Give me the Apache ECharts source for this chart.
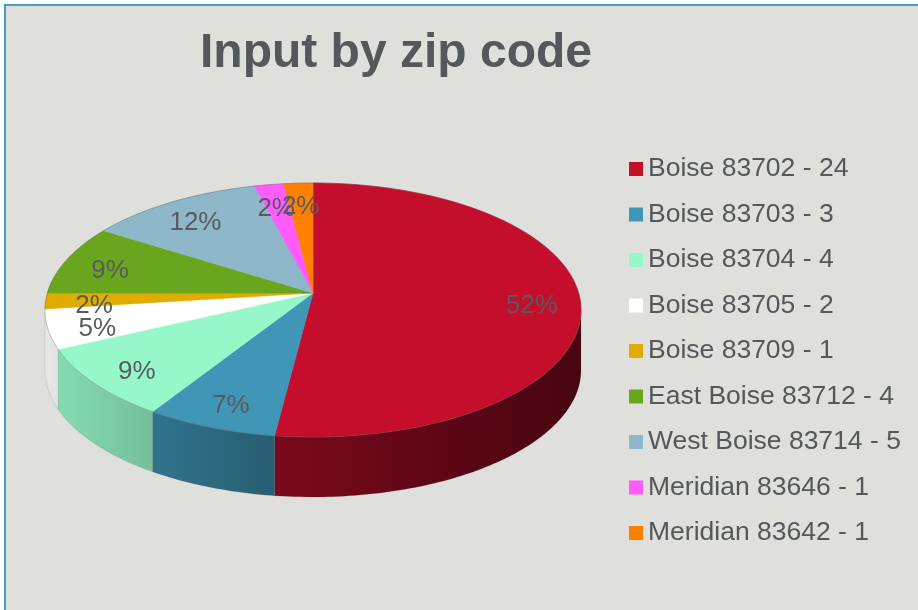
<!DOCTYPE html>
<html>
<head>
<meta charset="utf-8">
<title>Input by zip code</title>
<script src="https://cdn.jsdelivr.net/npm/echarts@6/dist/echarts.min.js"></script>
<style>
  html, body { margin: 0; padding: 0; background: #fff; }
  #main { width: 918px; height: 610px; }
</style>
</head>
<body>
<div id="main"></div>
<script>
// legend labels (zip code - count)
const zipNames = [
    'Boise 83702 - 24', 'Boise 83703 - 3', 'Boise 83704 - 4', 'Boise 83705 - 2',
    'Boise 83709 - 1', 'East Boise 83712 - 4', 'West Boise 83714 - 5',
    'Meridian 83646 - 1', 'Meridian 83642 - 1'
];
// share of each slice in percent, as printed on the pie
const zipShares = [52, 7, 9, 5, 2, 9, 12, 2, 2];
const zipColors = [
    '#C40E2C', '#4096B6', '#96F8C8', '#FFFFFF', '#E0AC00',
    '#6AA61D', '#8EB8CA', '#FF5CFF', '#FF8000'
];

// 3D pie geometry: tilted disc seen in perspective
const cx = 313, cy = 293;      // projected centre of the top face
const bx = 265.6, by = 124.7;  // half axes before perspective
const persp = 0.134;           // far side shrink
const depth = 60;              // wall height

function shade(hex, f) {
    const n = parseInt(hex.slice(1), 16);
    const r = Math.round(((n >> 16) & 255) * f);
    const g = Math.round(((n >> 8) & 255) * f);
    const b = Math.round((n & 255) * f);
    return 'rgb(' + r + ',' + g + ',' + b + ')';
}

// angle clockwise from 12 o'clock, r = fraction of radius
function pt(a, r, dy) {
    const X = r * Math.sin(a);
    const Z = -r * Math.cos(a);   // +1 = nearest to viewer
    const w = 1 - persp * Z;
    return [cx + bx * X / w, cy + by * Z / w + (dy || 0)];
}

function arcPts(a0, a1, dy) {
    const pts = [];
    const steps = Math.max(2, Math.ceil(Math.abs(a1 - a0) / (Math.PI / 180)));
    for (let i = 0; i <= steps; i++) {
        pts.push(pt(a0 + (a1 - a0) * i / steps, 1, dy));
    }
    return pts;
}

const total = zipShares.reduce((s, v) => s + v, 0);
const startAngles = [];
zipShares.reduce((acc, v) => { startAngles.push(acc / total * Math.PI * 2); return acc + v; }, 0);

// silhouette of the wall (left/right extremes of the rim)
const wallFrom = Math.acos(-persp);
const wallTo = Math.PI * 2 - wallFrom;

function renderSlice(params, api) {
    const i = params.dataIndex;
    const v = api.value(0);
    const a0 = startAngles[i];
    const a1 = a0 + v / total * Math.PI * 2;
    const color = zipColors[i];
    const children = [];

    // top face
    children.push({
        type: 'polygon',
        z2: 10,
        shape: { points: [[cx, cy]].concat(arcPts(a0, a1)) },
        style: { fill: color, stroke: color, lineWidth: 0.6 }
    });
    // rim line
    children.push({
        type: 'polyline',
        z2: 11,
        shape: { points: arcPts(a0, a1) },
        style: { fill: null, stroke: 'rgba(90,90,90,0.35)', lineWidth: 1 }
    });

    // front wall (only the part facing the viewer)
    const s = Math.max(a0, wallFrom);
    const e = Math.min(a1, wallTo);
    if (e > s) {
        const wall = arcPts(s, e).concat(arcPts(e, s, depth));
        children.push({
            type: 'polygon',
            z2: 1,
            shape: { points: wall },
            style: {
                fill: {
                    type: 'linear', global: true,
                    x: cx - bx, y: 0, x2: cx + bx, y2: 0,
                    colorStops: [
                        { offset: 0, color: shade(color, 0.9) },
                        { offset: 0.4, color: shade(color, 0.64) },
                        { offset: 1, color: shade(color, 0.36) }
                    ]
                },
                stroke: 'rgba(90,90,90,0.25)',
                lineWidth: 0.6
            }
        });
    }

    // percentage label
    const mid = (a0 + a1) / 2;
    const lp = pt(mid, 0.82);
    children.push({
        type: 'text',
        z2: 20,
        x: lp[0],
        y: lp[1] + 6,
        style: {
            text: v + '%',
            fill: '#575B5E',
            font: '26px "Liberation Sans", Arial, sans-serif',
            align: 'center',
            verticalAlign: 'middle'
        }
    });
    return { type: 'group', children: children };
}

const chart = echarts.init(document.getElementById('main'));
chart.setOption({
    backgroundColor: '#fff',
    animation: false,
    color: zipColors,
    graphic: [{
        type: 'rect',
        z: -10,
        silent: true,
        shape: { x: 5, y: 5, width: 1000, height: 1000 },
        style: { fill: '#DFDFDB', stroke: '#4A9BC2', lineWidth: 2 }
    }],
    title: {
        text: 'Input by zip code',
        left: 200,
        top: 30,
        padding: 0,
        textStyle: {
            fontFamily: '"Liberation Sans", Arial, sans-serif',
            fontSize: 48,
            fontWeight: 'bold',
            color: '#54585B'
        }
    },
    legend: {
        orient: 'vertical',
        left: 629,
        top: 154,
        padding: 0,
        icon: 'rect',
        itemWidth: 14,
        itemHeight: 14,
        itemGap: 15.5,
        selectedMode: false,
        data: zipNames,
        textStyle: {
            fontFamily: '"Liberation Sans", Arial, sans-serif',
            fontSize: 26.5,
            lineHeight: 30,
            color: '#54585B'
        }
    },
    series: [
        {
            // drives the legend only
            type: 'pie',
            silent: true,
            center: [-200, -200],
            radius: [0, 1],
            label: { show: false },
            labelLine: { show: false },
            data: zipNames.map((n, i) => ({ name: n, value: zipShares[i] }))
        },
        {
            type: 'custom',
            coordinateSystem: 'none',
            silent: true,
            renderItem: renderSlice,
            data: zipShares.map(v => [v])
        }
    ]
});
</script>
</body>
</html>
